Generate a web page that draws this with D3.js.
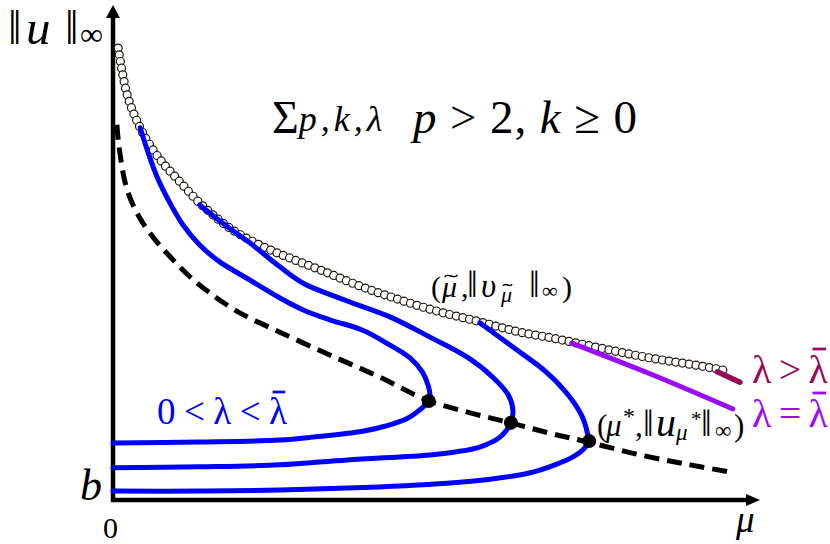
<!DOCTYPE html>
<html>
<head>
<meta charset="utf-8">
<script src="https://cdn.jsdelivr.net/npm/d3@7"></script>
<style>
  body { margin: 0; background: #fff; }
  svg { display: block; }
</style>
</head>
<body>
<svg id="chart" width="830" height="544"></svg>
<script>
// Bifurcation diagram of ||u||_inf against mu (schematic units, 0..100 on both axes)

// Upper envelope (mu~, ||v_mu~||_inf), drawn as a chain of small rings
const envelope = [
  [0.8, 91.3], [1.1, 88.9], [1.6, 85.3], [2.2, 81.8], [3.1, 78.4], [4.2, 75.2],
  [5.7, 71.7], [7.7, 68.1], [10.4, 64.2], [13.4, 60.0], [18.1, 54.9], [22.7, 51.5],
  [26.9, 49.1], [32.0, 46.5], [38.2, 43.2], [44.4, 40.4], [50.5, 38.0], [56.7, 36.0],
  [62.9, 33.9], [68.0, 32.7], [75.3, 30.7], [83.0, 28.7], [90.7, 27.1], [94.9, 26.1]
];

// Locus of turning points (mu*, ||u_mu*||_inf), dashed
const turningLocus = [
  [0.6, 75.8], [0.9, 71.7], [1.9, 64.0], [3.1, 59.6], [4.6, 56.0], [6.8, 52.1],
  [9.3, 48.5], [11.9, 45.1], [15.0, 41.8], [19.6, 37.8], [25.8, 33.9], [33.5, 29.3],
  [41.3, 24.8], [48.5, 20.2], [55.2, 17.6], [61.4, 15.6], [67.5, 13.5], [73.4, 11.7],
  [81.5, 9.1], [89.2, 7.1], [96.1, 5.5]
];

// Turning points of the three solution branches
const turningPoints = [[48.8, 20.0], [61.5, 15.6], [73.6, 11.9]];

// Solution branches for 0 < lambda < lambda-bar (upper part, fold, lower part)
const branch1 = [
  [4.2, 75.2], [5.4, 70.3], [6.8, 65.3], [8.8, 60.0], [10.8, 55.6], [13.4, 51.5],
  [16.5, 48.1], [20.7, 44.8], [25.8, 40.8], [29.4, 38.4], [33.5, 36.4], [38.6, 34.3],
  [42.8, 31.3], [45.9, 28.7], [47.8, 25.9], [48.7, 23.2], [49.0, 21.2], [48.8, 20.0],
  [47.4, 18.2], [45.4, 16.4], [42.0, 14.9], [38.6, 13.9], [30.9, 12.7], [25.8, 12.1],
  [13.4, 11.7], [0, 11.5]
];
const branch2 = [
  [13.4, 59.6], [17.3, 55.6], [21.2, 51.9], [25.8, 47.1], [29.4, 43.8], [36.2, 40.2],
  [42.8, 37.0], [49.0, 32.9], [54.7, 28.9], [58.7, 24.8], [61.1, 21.2], [61.8, 18.2],
  [61.5, 15.6], [59.8, 12.7], [56.7, 10.7], [52.9, 9.7], [49.0, 9.1], [36.2, 8.1],
  [25.8, 7.1], [13.4, 6.7], [0, 6.5]
];
const branch3 = [
  [56.7, 35.8], [61.8, 30.9], [67.1, 25.7], [70.6, 20.8], [72.6, 16.6], [73.4, 13.1],
  [73.6, 11.9], [72.6, 10.1], [71.1, 8.7], [68.3, 7.1], [64.5, 5.5], [58.3, 4.2],
  [51.6, 3.4], [36.2, 2.4], [25.8, 2.0], [13.4, 1.8], [0, 1.8]
];
const branches = [branch1, branch2, branch3];

// lambda = lambda-bar and lambda > lambda-bar
const lambdaEqual = [[70.9, 31.7], [83.0, 25.5], [95.8, 18.4]];
const lambdaAbove = [[93.4, 25.9], [96.9, 23.8]];

const SERIF = "'Liberation Serif', 'Times New Roman', 'DejaVu Serif', serif";
const COL_BRANCH = "#0000ff";
const COL_EQUAL = "#9a0cf6";
const COL_ABOVE = "#960a5c";

const svg = d3.select("#chart");
const x = d3.scaleLinear().domain([0, 100]).range([113, 760]);
const y = d3.scaleLinear().domain([0, 100]).range([500, 5]);

const smooth = d3.line()
  .x(d => x(d[0])).y(d => y(d[1]))
  .curve(d3.curveCatmullRom.alpha(0.5));

// Axes with arrowheads
const axisG = svg.append("g");
axisG.append("line")
  .attr("x1", x(0)).attr("y1", y(0) + 2).attr("x2", x(0)).attr("y2", y(100) + 10)
  .attr("stroke", "#000").attr("stroke-width", 4.5);
axisG.append("line")
  .attr("x1", x(0) - 2).attr("y1", y(0)).attr("x2", x(100) - 10).attr("y2", y(0))
  .attr("stroke", "#000").attr("stroke-width", 4.5);
axisG.append("path")
  .attr("d", `M${x(0)},${y(100)} L${x(0) + 7},${y(100) + 13} L${x(0) - 7},${y(100) + 13} Z`)
  .attr("fill", "#000");
axisG.append("path")
  .attr("d", `M${x(100)},${y(0)} L${x(100) - 14},${y(0) - 6} L${x(100) - 14},${y(0) + 6} Z`)
  .attr("fill", "#000");

// Envelope as a ring chain along the smoothed curve
const guide = svg.append("path").attr("d", smooth(envelope))
  .attr("fill", "none").attr("stroke", "none");
const totalLen = guide.node().getTotalLength();
const ringStep = 6.8;
const rings = d3.range(0, totalLen + 0.01, ringStep).map(l => guide.node().getPointAtLength(l));
svg.append("g").selectAll("circle").data(rings).join("circle")
  .attr("cx", d => d.x).attr("cy", d => d.y).attr("r", 4)
  .attr("fill", "#fff").attr("stroke", "#1e1810").attr("stroke-width", 1.2);

// Dashed turning-point locus
svg.append("path").attr("d", smooth(turningLocus))
  .attr("fill", "none").attr("stroke", "#000").attr("stroke-width", 5)
  .attr("stroke-dasharray", "15,8");

// Branches
svg.append("g").selectAll("path").data(branches).join("path")
  .attr("d", smooth)
  .attr("fill", "none").attr("stroke", COL_BRANCH).attr("stroke-width", 5)
  .attr("stroke-linecap", "round").attr("stroke-linejoin", "round");

svg.append("path").attr("d", smooth(lambdaEqual))
  .attr("fill", "none").attr("stroke", COL_EQUAL).attr("stroke-width", 5)
  .attr("stroke-linecap", "round");
svg.append("path").attr("d", smooth(lambdaAbove))
  .attr("fill", "none").attr("stroke", COL_ABOVE).attr("stroke-width", 5.5)
  .attr("stroke-linecap", "round");

// Turning points
svg.append("g").selectAll("circle").data(turningPoints).join("circle")
  .attr("cx", d => x(d[0])).attr("cy", d => y(d[1])).attr("r", 7)
  .attr("fill", "#000");

// ---- Labels ----
function label(px, py, size, fill) {
  return svg.append("text").attr("x", px).attr("y", py)
    .attr("font-family", SERIF).attr("font-size", size).attr("fill", fill);
}
// overbar above character i of a text element
function overbar(t, i, fill, lift) {
  const e = t.node().getExtentOfChar(i);
  svg.append("line")
    .attr("x1", e.x + e.width * 0.2).attr("x2", e.x + e.width * 0.9)
    .attr("y1", e.y + lift).attr("y2", e.y + lift)
    .attr("stroke", fill).attr("stroke-width", 2.8);
}
// small tilde above character i of a text element
function tilde(t, i, lift, w) {
  const e = t.node().getExtentOfChar(i);
  const cx = e.x + e.width * 0.6, cy = e.y + lift, h = w * 0.22;
  svg.append("path")
    .attr("d", `M${cx - w / 2},${cy + h * 0.4} C${cx - w / 4},${cy - h * 1.6} ${cx + w / 4},${cy + h * 1.6} ${cx + w / 2},${cy - h * 0.4}`)
    .attr("fill", "none").attr("stroke", "#000").attr("stroke-width", 1.4);
}

// Vertical axis label ||u||_inf
const yl = label(11, 44, 48, "#000");
yl.append("tspan").attr("x", 8).text("\u2016");
yl.append("tspan").attr("x", 26).attr("font-size", 49).attr("font-style", "italic")
  .attr("transform", null).text("u");
yl.append("tspan").attr("x", 65).text("\u2016");
yl.append("tspan").attr("x", 80).attr("font-size", 32).attr("dy", 1).text("\u221e");

// Title
const tt = label(272, 133, 46, "#000");
tt.append("tspan").text("\u03a3");
tt.append("tspan").attr("font-size", 36).attr("font-style", "italic")
  .attr("letter-spacing", 4).attr("dy", -2).text("p,k,\u03bb");
const t2 = label(413, 133, 47, "#000").attr("textLength", 224).attr("lengthAdjust", "spacing");
t2.append("tspan").attr("font-style", "italic").text("p");
t2.append("tspan").text(" > 2, ");
t2.append("tspan").attr("font-style", "italic").text("k");
t2.append("tspan").text(" \u2265 0");

// Envelope end label  (mu~, ||v_mu~||_inf)
const el = label(432, 297, 30, "#000");
el.append("tspan").attr("x", 431).text("(");
el.append("tspan").attr("x", 442).attr("font-style", "italic").text("\u03bc");
el.append("tspan").attr("x", 461).text(",");
el.append("tspan").attr("x", 467).attr("font-size", 38).text("\u2016");
el.append("tspan").attr("x", 481).attr("font-style", "italic").attr("font-size", 33).text("\u03c5");
el.append("tspan").attr("x", 501).attr("font-style", "italic").attr("font-size", 22).attr("dy", 5).text("\u03bc");
el.append("tspan").attr("x", 529).attr("font-size", 38).attr("dy", -5).text("\u2016");
el.append("tspan").attr("x", 542).attr("font-size", 22).attr("dy", 1).text("\u221e");
el.append("tspan").attr("x", 562).attr("dy", -1).text(")");
tilde(el, 1, 6, 13);
tilde(el, 5, 3, 9);

// Turning point label  (mu*, ||u_mu*||_inf)
const tl = label(598, 436, 31, "#000");
tl.append("tspan").attr("x", 597).text("(");
tl.append("tspan").attr("x", 606).attr("font-style", "italic").text("\u03bc");
tl.append("tspan").attr("x", 623).attr("font-size", 24).attr("dy", -12).text("*");
tl.append("tspan").attr("x", 635).attr("dy", 12).text(",");
tl.append("tspan").attr("x", 643).attr("font-size", 38).text("\u2016");
tl.append("tspan").attr("x", 656).attr("font-style", "italic").attr("font-size", 40).text("u");
tl.append("tspan").attr("x", 676).attr("font-style", "italic").attr("font-size", 23).attr("dy", 4).text("\u03bc");
tl.append("tspan").attr("x", 691).attr("font-size", 21).attr("dy", -14).text("*");
tl.append("tspan").attr("x", 701).attr("font-size", 38).attr("dy", 10).text("\u2016");
tl.append("tspan").attr("x", 715).attr("font-size", 23).attr("dy", 2).text("\u221e");
tl.append("tspan").attr("x", 734).attr("dy", -2).text(")");

// Lambda labels
const la = label(752, 383, 40, COL_ABOVE).attr("textLength", 76).attr("lengthAdjust", "spacing")
  .text("\u03bb>\u03bb");
overbar(la, 2, COL_ABOVE, 2);
const le = label(752, 427, 40, COL_EQUAL).attr("textLength", 76).attr("lengthAdjust", "spacing")
  .text("\u03bb=\u03bb");
overbar(le, 2, COL_EQUAL, 2);
const lb = label(157, 424, 37, COL_BRANCH).attr("textLength", 130).attr("lengthAdjust", "spacing")
  .text("0<\u03bb<\u03bb");
overbar(lb, 4, COL_BRANCH, 1);

// Axis annotations
label(80, 500, 44, "#000").attr("font-style", "italic").text("b");
label(103, 538, 30, "#000").text("0");
label(736, 532, 37, "#000").attr("font-style", "italic").text("\u03bc");
</script>
</body>
</html>
